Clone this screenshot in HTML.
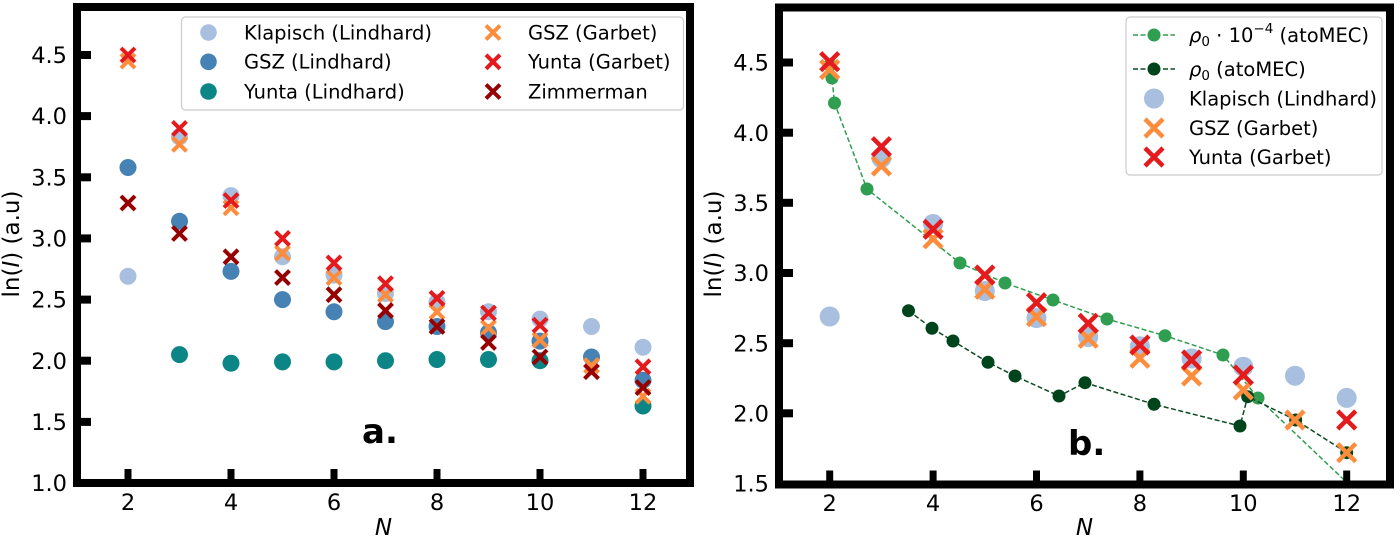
<!DOCTYPE html>
<html>
<head>
<meta charset="utf-8">
<style>
html,body{margin:0;padding:0;background:#fff;}
svg{display:block;}
text{font-family:"DejaVu Sans","Liberation Sans",sans-serif;fill:#000;}
</style>
</head>
<body>
<svg width="1400" height="540" viewBox="0 0 1400 540" xmlns="http://www.w3.org/2000/svg">
<defs>
<clipPath id="cl"><rect x="77" y="7" width="613" height="476"/></clipPath>
<clipPath id="cr"><rect x="779" y="7.5" width="611" height="477"/></clipPath>
<g id="xs"><path d="M-7,-7L7,7M-7,7L7,-7" stroke-width="4" fill="none"/></g>
<g id="xb"><path d="M-9,-9L9,9M-9,9L9,-9" stroke-width="4.5" fill="none"/></g>
</defs>
<rect width="1400" height="540" fill="#fff"/>

<!-- ================= LEFT PANEL ================= -->
<g clip-path="url(#cl)">
<!-- Klapisch (Lindhard) -->
<g fill="#a8bfdf">
<circle cx="128" cy="276.3" r="8.5"/><circle cx="179.5" cy="136.9" r="8.5"/><circle cx="231" cy="195.6" r="8.5"/><circle cx="282.5" cy="256.8" r="8.5"/><circle cx="334" cy="275.1" r="8.5"/><circle cx="385.5" cy="293.5" r="8.5"/><circle cx="437" cy="302" r="8.5"/><circle cx="488.5" cy="311.8" r="8.5"/><circle cx="540" cy="319.1" r="8.5"/><circle cx="591.5" cy="326.5" r="8.5"/><circle cx="643" cy="347.3" r="8.5"/>
</g>
<!-- GSZ (Lindhard) -->
<g fill="#4682b4">
<circle cx="128" cy="167.5" r="8.5"/><circle cx="179.5" cy="221.3" r="8.5"/><circle cx="231" cy="271.4" r="8.5"/><circle cx="282.5" cy="299.6" r="8.5"/><circle cx="334" cy="311.8" r="8.5"/><circle cx="385.5" cy="321.6" r="8.5"/><circle cx="437" cy="326.5" r="8.5"/><circle cx="488.5" cy="332.6" r="8.5"/><circle cx="540" cy="341.1" r="8.5"/><circle cx="591.5" cy="357" r="8.5"/><circle cx="643" cy="380.3" r="8.5"/>
</g>
<!-- Yunta (Lindhard) -->
<g fill="#0b8585">
<circle cx="179.5" cy="354.6" r="8.5"/><circle cx="231" cy="363.2" r="8.5"/><circle cx="282.5" cy="361.9" r="8.5"/><circle cx="334" cy="361.9" r="8.5"/><circle cx="385.5" cy="360.7" r="8.5"/><circle cx="437" cy="359.5" r="8.5"/><circle cx="488.5" cy="359.5" r="8.5"/><circle cx="540" cy="360.7" r="8.5"/><circle cx="643" cy="406" r="8.5"/>
</g>
<!-- GSZ (Garbet) -->
<g stroke="#fd8d3c">
<use href="#xs" x="128" y="61.1"/><use href="#xs" x="179.5" y="144.3"/><use href="#xs" x="231" y="207.8"/><use href="#xs" x="282.5" y="253.1"/><use href="#xs" x="334" y="277.6"/><use href="#xs" x="385.5" y="294.7"/><use href="#xs" x="437" y="311.8"/><use href="#xs" x="488.5" y="327.7"/><use href="#xs" x="540" y="339.9"/><use href="#xs" x="591.5" y="365.6"/><use href="#xs" x="643" y="396.2"/>
</g>
<!-- Yunta (Garbet) -->
<g stroke="#e41a1c">
<use href="#xs" x="128" y="55"/><use href="#xs" x="179.5" y="128.4"/><use href="#xs" x="231" y="200.5"/><use href="#xs" x="282.5" y="238.4"/><use href="#xs" x="334" y="262.9"/><use href="#xs" x="385.5" y="283.7"/><use href="#xs" x="437" y="298.3"/><use href="#xs" x="488.5" y="313"/><use href="#xs" x="540" y="325.2"/><use href="#xs" x="643" y="366.8"/>
</g>
<!-- Zimmerman -->
<g stroke="#960000">
<use href="#xs" x="128" y="203"/><use href="#xs" x="179.5" y="233.5"/><use href="#xs" x="231" y="256.8"/><use href="#xs" x="282.5" y="277.6"/><use href="#xs" x="334" y="294.7"/><use href="#xs" x="385.5" y="310.6"/><use href="#xs" x="437" y="326.5"/><use href="#xs" x="488.5" y="342.4"/><use href="#xs" x="540" y="357"/><use href="#xs" x="591.5" y="371.7"/><use href="#xs" x="643" y="387.6"/>
</g>
</g>

<!-- left legend -->
<rect x="181.5" y="17" width="502" height="93" rx="4" fill="#fff" fill-opacity="0.85" stroke="#cccccc" stroke-width="1.2"/>
<circle cx="208.5" cy="32.5" r="8.3" fill="#a8bfdf"/>
<circle cx="208.5" cy="61.8" r="8.3" fill="#4682b4"/>
<circle cx="208.5" cy="91.5" r="8.3" fill="#0b8585"/>
<use href="#xs" x="493" y="32.5" stroke="#fd8d3c"/>
<use href="#xs" x="493" y="61.8" stroke="#e41a1c"/>
<use href="#xs" x="493" y="91.5" stroke="#960000"/>
<g font-size="19.5">
<text x="244" y="39.3">Klapisch (Lindhard)</text>
<text x="244" y="68.6">GSZ (Lindhard)</text>
<text x="244" y="98.3">Yunta (Lindhard)</text>
<text x="528" y="39.3">GSZ (Garbet)</text>
<text x="528" y="68.6">Yunta (Garbet)</text>
<text x="528" y="98.3">Zimmerman</text>
</g>

<!-- left frame & ticks -->
<rect x="77" y="7" width="613" height="476" fill="none" stroke="#000" stroke-width="8"/>
<g stroke="#000" stroke-width="8">
<line x1="77" y1="421.9" x2="91" y2="421.9"/>
<line x1="77" y1="360.7" x2="91" y2="360.7"/>
<line x1="77" y1="299.6" x2="91" y2="299.6"/>
<line x1="77" y1="238.4" x2="91" y2="238.4"/>
<line x1="77" y1="177.3" x2="91" y2="177.3"/>
<line x1="77" y1="116.1" x2="91" y2="116.1"/>
<line x1="77" y1="55" x2="91" y2="55"/>
</g>
<g stroke="#000" stroke-width="7">
<line x1="128" y1="483" x2="128" y2="469"/>
<line x1="231" y1="483" x2="231" y2="469"/>
<line x1="334" y1="483" x2="334" y2="469"/>
<line x1="437" y1="483" x2="437" y2="469"/>
<line x1="540" y1="483" x2="540" y2="469"/>
<line x1="643" y1="483" x2="643" y2="469"/>
</g>
<g font-size="22.5" text-anchor="end">
<text x="67" y="491">1.0</text>
<text x="67" y="430">1.5</text>
<text x="67" y="368.8">2.0</text>
<text x="67" y="307.7">2.5</text>
<text x="67" y="246.5">3.0</text>
<text x="67" y="185.4">3.5</text>
<text x="67" y="124.2">4.0</text>
<text x="67" y="63.1">4.5</text>
</g>
<g font-size="22.5" text-anchor="middle">
<text x="128" y="510">2</text>
<text x="231" y="510">4</text>
<text x="334" y="510">6</text>
<text x="437" y="510">8</text>
<text x="540" y="510">10</text>
<text x="643" y="510">12</text>
</g>
<text x="383.5" y="535" font-size="23" font-style="italic" text-anchor="middle">N</text>
<text transform="translate(19,244) rotate(-90)" font-size="23" text-anchor="middle">ln(<tspan font-style="italic">I</tspan>) (a.u)</text>
<text x="362" y="443" font-size="34" font-weight="bold">a.</text>

<!-- ================= RIGHT PANEL ================= -->
<g clip-path="url(#cr)">
<!-- rho0 * 1e-4 -->
<polyline points="830,65 832,78 834.5,103 867,189 960,263 1005,283 1053,300 1107,319 1165,335.7 1223,355 1258,398 1360,495" fill="none" stroke="#2f9e50" stroke-width="1.5" stroke-dasharray="5,2.5"/>
<g fill="#2f9e50">
<circle cx="830" cy="65" r="6.5"/><circle cx="832" cy="78" r="6.5"/><circle cx="834.5" cy="103" r="6.5"/><circle cx="867" cy="189" r="6.5"/><circle cx="960" cy="263" r="6.5"/><circle cx="1005" cy="283" r="6.5"/><circle cx="1053" cy="300" r="6.5"/><circle cx="1107" cy="319" r="6.5"/><circle cx="1165" cy="335.7" r="6.5"/><circle cx="1223" cy="355" r="6.5"/><circle cx="1258" cy="398" r="6.5"/>
</g>
<!-- rho0 -->
<polyline points="908.5,310.7 932,328.3 953,341 988,362.3 1015,376 1059,396 1085,382.7 1154,404.3 1240,426 1247.7,396.7 1295.7,420 1346.7,452.7" fill="none" stroke="#0b4a22" stroke-width="1.5" stroke-dasharray="5,2.5"/>
<g fill="#00441b">
<circle cx="908.5" cy="310.7" r="6.5"/><circle cx="932" cy="328.3" r="6.5"/><circle cx="953" cy="341" r="6.5"/><circle cx="988" cy="362.3" r="6.5"/><circle cx="1015" cy="376" r="6.5"/><circle cx="1059" cy="396" r="6.5"/><circle cx="1085" cy="382.7" r="6.5"/><circle cx="1154" cy="404.3" r="6.5"/><circle cx="1240" cy="426" r="6.5"/><circle cx="1247.7" cy="396.7" r="6.5"/><circle cx="1295.7" cy="420" r="6.5"/><circle cx="1346.7" cy="452.7" r="6.5"/>
</g>
<!-- Klapisch -->
<g fill="#a8bfdf">
<circle cx="829.7" cy="316.5" r="10"/><circle cx="881.4" cy="158" r="10"/><circle cx="933.1" cy="224" r="10"/><circle cx="984.8" cy="291" r="10"/><circle cx="1036.5" cy="318" r="10"/><circle cx="1088.2" cy="337" r="10"/><circle cx="1139.9" cy="346.3" r="10"/><circle cx="1191.6" cy="358.5" r="10"/><circle cx="1243.3" cy="366.7" r="10"/><circle cx="1295" cy="375.7" r="10"/><circle cx="1346.7" cy="397.9" r="10"/>
</g>
<!-- GSZ (Garbet) -->
<g stroke="#fd8d3c">
<use href="#xb" x="829.7" y="69.5"/><use href="#xb" x="881.4" y="166"/><use href="#xb" x="933.1" y="238.8"/><use href="#xb" x="984.8" y="289.3"/><use href="#xb" x="1036.5" y="316.7"/><use href="#xb" x="1088.2" y="338.3"/><use href="#xb" x="1139.9" y="358.3"/><use href="#xb" x="1191.6" y="376"/><use href="#xb" x="1243.3" y="390"/><use href="#xb" x="1295" y="420"/><use href="#xb" x="1346.7" y="452.7"/>
</g>
<!-- Yunta (Garbet) -->
<g stroke="#e41a1c">
<use href="#xb" x="829.7" y="61.7"/><use href="#xb" x="881.4" y="146.7"/><use href="#xb" x="933.1" y="229.3"/><use href="#xb" x="984.8" y="275"/><use href="#xb" x="1036.5" y="302.7"/><use href="#xb" x="1088.2" y="323.3"/><use href="#xb" x="1139.9" y="345"/><use href="#xb" x="1191.6" y="360"/><use href="#xb" x="1243.3" y="375"/><use href="#xb" x="1346.7" y="420"/>
</g>
</g>

<!-- right legend -->
<rect x="1126" y="17" width="256" height="158" rx="4" fill="#fff" fill-opacity="0.85" stroke="#cccccc" stroke-width="1.2"/>
<line x1="1133" y1="35" x2="1175" y2="35" stroke="#2f9e50" stroke-width="1.5" stroke-dasharray="5,2.5"/>
<circle cx="1154" cy="35" r="6.5" fill="#2f9e50"/>
<line x1="1133" y1="69" x2="1175" y2="69" stroke="#0b4a22" stroke-width="1.5" stroke-dasharray="5,2.5"/>
<circle cx="1154" cy="69" r="6.5" fill="#00441b"/>
<circle cx="1154" cy="98.5" r="10" fill="#a8bfdf"/>
<use href="#xb" x="1154" y="128" stroke="#fd8d3c"/>
<use href="#xb" x="1154" y="157" stroke="#e41a1c"/>
<g font-size="19.5">
<text x="1189" y="42"><tspan font-style="italic">ρ</tspan><tspan font-size="13.5" dy="4">0</tspan><tspan dy="-4"> · 10</tspan><tspan font-size="13.5" dy="-9">−4</tspan><tspan dy="9"> (atoMEC)</tspan></text>
<text x="1189" y="76"><tspan font-style="italic">ρ</tspan><tspan font-size="13.5" dy="4">0</tspan><tspan dy="-4"> (atoMEC)</tspan></text>
<text x="1189" y="105.5">Klapisch (Lindhard)</text>
<text x="1189" y="135">GSZ (Garbet)</text>
<text x="1189" y="164">Yunta (Garbet)</text>
</g>

<!-- right frame & ticks -->
<rect x="779" y="7.5" width="611" height="477" fill="none" stroke="#000" stroke-width="8"/>
<g stroke="#000" stroke-width="8">
<line x1="779" y1="413.3" x2="793" y2="413.3"/>
<line x1="779" y1="343.2" x2="793" y2="343.2"/>
<line x1="779" y1="273" x2="793" y2="273"/>
<line x1="779" y1="202.8" x2="793" y2="202.8"/>
<line x1="779" y1="132.7" x2="793" y2="132.7"/>
<line x1="779" y1="62.5" x2="793" y2="62.5"/>
</g>
<g stroke="#000" stroke-width="7">
<line x1="829.7" y1="484.5" x2="829.7" y2="470.5"/>
<line x1="933.1" y1="484.5" x2="933.1" y2="470.5"/>
<line x1="1036.5" y1="484.5" x2="1036.5" y2="470.5"/>
<line x1="1139.9" y1="484.5" x2="1139.9" y2="470.5"/>
<line x1="1243.3" y1="484.5" x2="1243.3" y2="470.5"/>
<line x1="1346.7" y1="484.5" x2="1346.7" y2="470.5"/>
</g>
<g font-size="22.5" text-anchor="end">
<text x="769" y="491.6">1.5</text>
<text x="769" y="421.4">2.0</text>
<text x="769" y="351.3">2.5</text>
<text x="769" y="281.1">3.0</text>
<text x="769" y="210.9">3.5</text>
<text x="769" y="140.8">4.0</text>
<text x="769" y="70.6">4.5</text>
</g>
<g font-size="22.5" text-anchor="middle">
<text x="829.7" y="511">2</text>
<text x="933.1" y="511">4</text>
<text x="1036.5" y="511">6</text>
<text x="1139.9" y="511">8</text>
<text x="1243.3" y="511">10</text>
<text x="1346.7" y="511">12</text>
</g>
<text x="1084.5" y="535" font-size="23" font-style="italic" text-anchor="middle">N</text>
<text transform="translate(721,244) rotate(-90)" font-size="23" text-anchor="middle">ln(<tspan font-style="italic">I</tspan>) (a.u)</text>
<text x="1068" y="455" font-size="34" font-weight="bold">b.</text>
</svg>
</body>
</html>
